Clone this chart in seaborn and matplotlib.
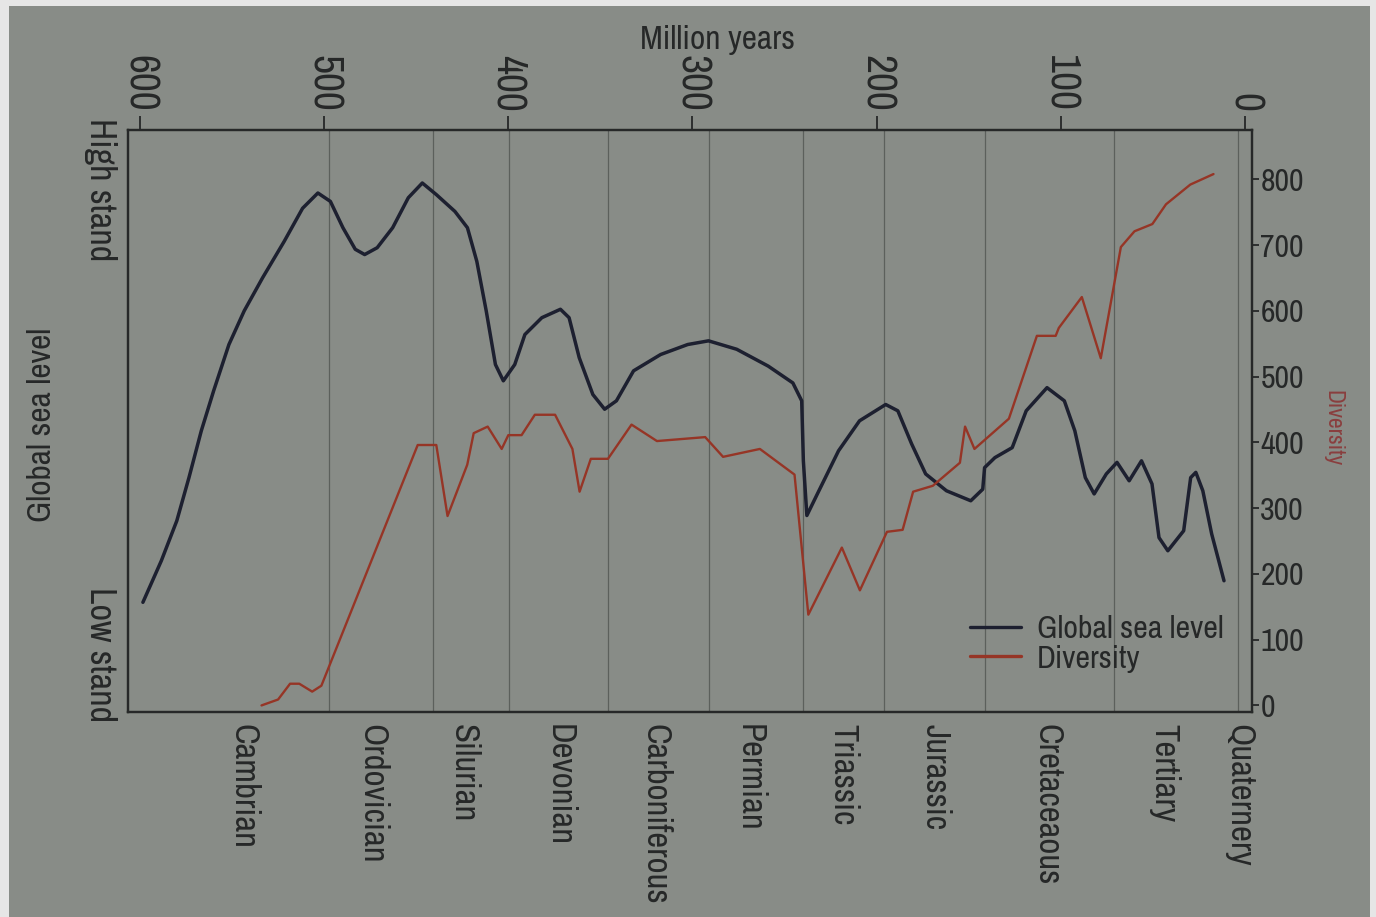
"""Phanerozoic global sea level vs. marine diversity — recreated with seaborn."""
import matplotlib
matplotlib.use("Agg")
import matplotlib.pyplot as plt
from matplotlib import font_manager
from matplotlib.lines import Line2D
from matplotlib.patches import Rectangle
import matplotlib.transforms as mtransforms
import pandas as pd
import seaborn as sns

# --- data ---------------------------------------------------------------
sea_age = [598.4, 588.4, 580, 573.4, 566.7, 560, 551.7, 543.4, 533.4, 521.7,
           511.7, 503.4, 496.6, 489.8, 483.1, 478, 471.2, 462.8, 454.3, 446.7,
           439.1, 429, 422.2, 417.1, 412, 407, 402.7, 396.5, 391, 381.8,
           371.7, 367, 361.5, 354.1, 347.7, 341.3, 332, 317.3, 302.6, 291.3,
           276, 258.9, 245.5, 240.7, 239.8, 237.9, 232.2, 220.7, 209.3, 195.1,
           188.5, 181, 173.4, 162.1, 148.9, 142.4, 141.4, 135.8, 126.4, 118.8,
           107.5, 98.1, 92.4, 86.7, 81.9, 75.3, 69.5, 62.9, 56.2, 50.5,
           46.7, 41.9, 33.3, 29.5, 26.7, 22.9, 18.1, 11.4]
# relative sea level, 0 = low stand, 100 = high stand
sea_level = [19.6, 27.5, 35.1, 43.3, 52.2, 59.8, 68.6, 75.0, 81.3, 88.2,
             94.5, 97.4, 95.8, 90.8, 86.7, 85.7, 87.0, 90.8, 96.5, 99.3,
             97.1, 93.9, 90.8, 84.4, 75.0, 64.8, 61.7, 64.8, 70.5, 73.7,
             75.3, 73.7, 66.1, 59.1, 56.3, 57.9, 63.6, 66.7, 68.6, 69.3,
             67.7, 64.5, 61.3, 57.9, 46.5, 36.1, 40.2, 48.4, 54.1, 57.2,
             56.0, 49.7, 44.0, 40.8, 38.9, 41.1, 45.2, 47.1, 49.0, 56.0,
             60.4, 57.9, 52.2, 43.3, 40.2, 44.0, 46.2, 42.7, 46.5, 42.1,
             31.9, 29.4, 33.2, 43.3, 44.3, 40.8, 32.6, 23.7]

div_age = [534, 525, 518.5, 513.5, 506.5, 501.5, 449.2, 439.1, 433, 422.3,
           418.8, 411.2, 403.6, 400, 392.8, 385.6, 374.6, 365.2, 361.3, 355.2,
           345.9, 333.1, 319.3, 293.1, 283.4, 263.4, 244.6, 237.1, 218.9, 209.1,
           194.4, 185.9, 180.2, 169.5, 154.8, 152, 146.9, 128.2, 113, 102.8,
           101.1, 88.6, 78.3, 67.4, 60, 50.3, 42.9, 29.7, 17.1]
diversity = [0, 9, 33, 33, 21, 30, 396, 396, 288, 366,
             414, 424, 390, 411, 411, 442, 442, 390, 325, 375,
             375, 427, 402, 408, 378, 390, 351, 138, 240, 175,
             264, 267, 325, 334, 369, 424, 390, 436, 562, 562,
             574, 621, 528, 697, 721, 732, 762, 792, 808]

period_bounds = [497.5, 441, 399.5, 346, 291, 240, 196, 141, 71, 4]
period_names = ["Cambrian", "Ordovician", "Silurian", "Devonian", "Carboniferous",
                "Permian", "Triassic", "Jurassic", "Cretaceaous", "Tertiary",
                "Quaternery"]
period_label_age = [544, 474, 424, 372, 320, 269, 218, 168, 107, 44, 3]

age_ticks = [600, 500, 400, 300, 200, 100, 0]
div_ticks = [0, 100, 200, 300, 400, 500, 600, 700, 800]

# --- style ----------------------------------------------------------------
sns.set_style("white")

# the original uses a condensed grotesque; take a narrow face if there is one
narrow = [f.name for f in font_manager.fontManager.ttflist
          if ("Narrow" in f.name or "Condensed" in f.name
              or f.stretch in ("condensed", "semi-condensed", 600, 700))]
narrow = sorted(set(narrow))
if narrow:
    plt.rcParams["font.family"] = [narrow[0], "DejaVu Sans"]
    FS = 1.0
else:
    plt.rcParams["font.family"] = ["DejaVu Sans"]
    FS = 0.78

PAPER = "#888c87"
INK = "#262828"
SEA = "#1d2030"
DIV = "#963526"

fig = plt.figure(figsize=(13.76, 9.17), dpi=100, facecolor="#e6e6e6")
fig.patches.append(Rectangle((9 / 1376, 0), 1361 / 1376, 1 - 6 / 917,
                             transform=fig.transFigure, facecolor=PAPER,
                             edgecolor="none", zorder=-10))

ax = fig.add_axes([128 / 1376, 1 - 712 / 917, (1252 - 128) / 1376, (712 - 130) / 917])
ax.set_facecolor("none")
ax2 = ax.twinx()
ax2.set_facecolor("none")

sea_df = pd.DataFrame({"age": sea_age, "level": sea_level})
div_df = pd.DataFrame({"age": div_age, "diversity": diversity})

for b in period_bounds:
    ax.axvline(b, color="#5c605c", lw=0.9, zorder=1)

sns.lineplot(data=sea_df, x="age", y="level", ax=ax, color=SEA, lw=2.5,
             sort=False, legend=False, solid_joinstyle="round",
             solid_capstyle="round")
sns.lineplot(data=div_df, x="age", y="diversity", ax=ax2, color=DIV, lw=1.7,
             sort=False, legend=False)

ax.set_xlim(606.5, -3.8)
ax.set_ylim(-10 / 8, 875 / 8)
ax2.set_ylim(-10, 875)

# top axis: million years
ax.xaxis.tick_top()
ax.set_xticks(age_ticks)
ax.set_xticklabels([str(a) for a in age_ticks], rotation=-90, fontsize=30 * FS, color=INK)
ax.tick_params(axis="x", direction="out", length=10, width=1.3, color=INK, pad=3)
ax.set_xlabel("")
ax.set_ylabel("")
ax.set_yticks([])

ax2.set_yticks(div_ticks)
ax2.set_yticklabels([str(d) for d in div_ticks], fontsize=23 * FS, color=INK)
ax2.tick_params(axis="y", direction="out", length=5, width=1.3, color=INK, pad=1)
ax2.set_ylabel("")

for a in (ax, ax2):
    for s in a.spines.values():
        s.set_color(INK)
        s.set_linewidth(1.6)

# period names under the plot
trans = mtransforms.blended_transform_factory(ax.transData, ax.transAxes)
for name, age in zip(period_names, period_label_age):
    ax.text(age, -0.02, name, transform=trans, rotation=-90, ha="center",
            va="top", fontsize=25 * FS, color=INK)

# axis titles
fig.text(718 / 1376, 1 - 40 / 917, "Million years", ha="center", va="center",
         fontsize=24 * FS, color=INK)
fig.text(42 / 1376, 1 - 425 / 917, "Global sea level", rotation=90,
         ha="center", va="center", fontsize=24 * FS, color=INK)
fig.text(100 / 1376, 1 - 118 / 917, "High stand", rotation=-90,
         ha="center", va="top", fontsize=26 * FS, color=INK)
fig.text(100 / 1376, 1 - 722 / 917, "Low stand", rotation=-90,
         ha="center", va="bottom", fontsize=26 * FS, color=INK)
fig.text(1333 / 1376, 1 - 428 / 917, "Diversity", rotation=-90,
         ha="center", va="center", fontsize=17 * FS, color="#8a3f3f")

handles = [Line2D([], [], color=SEA, lw=2.4), Line2D([], [], color=DIV, lw=2.4)]
fig.legend(handles, ["Global sea level", "Diversity"], loc="upper left",
           bbox_to_anchor=(954 / 1376, 1 - 599 / 917), frameon=False,
           fontsize=23 * FS, handlelength=1.6, handletextpad=0.5, labelspacing=0.05,
           borderpad=0, labelcolor=INK)

plt.savefig("out.png", dpi=100, facecolor=fig.get_facecolor())
plt.close()
